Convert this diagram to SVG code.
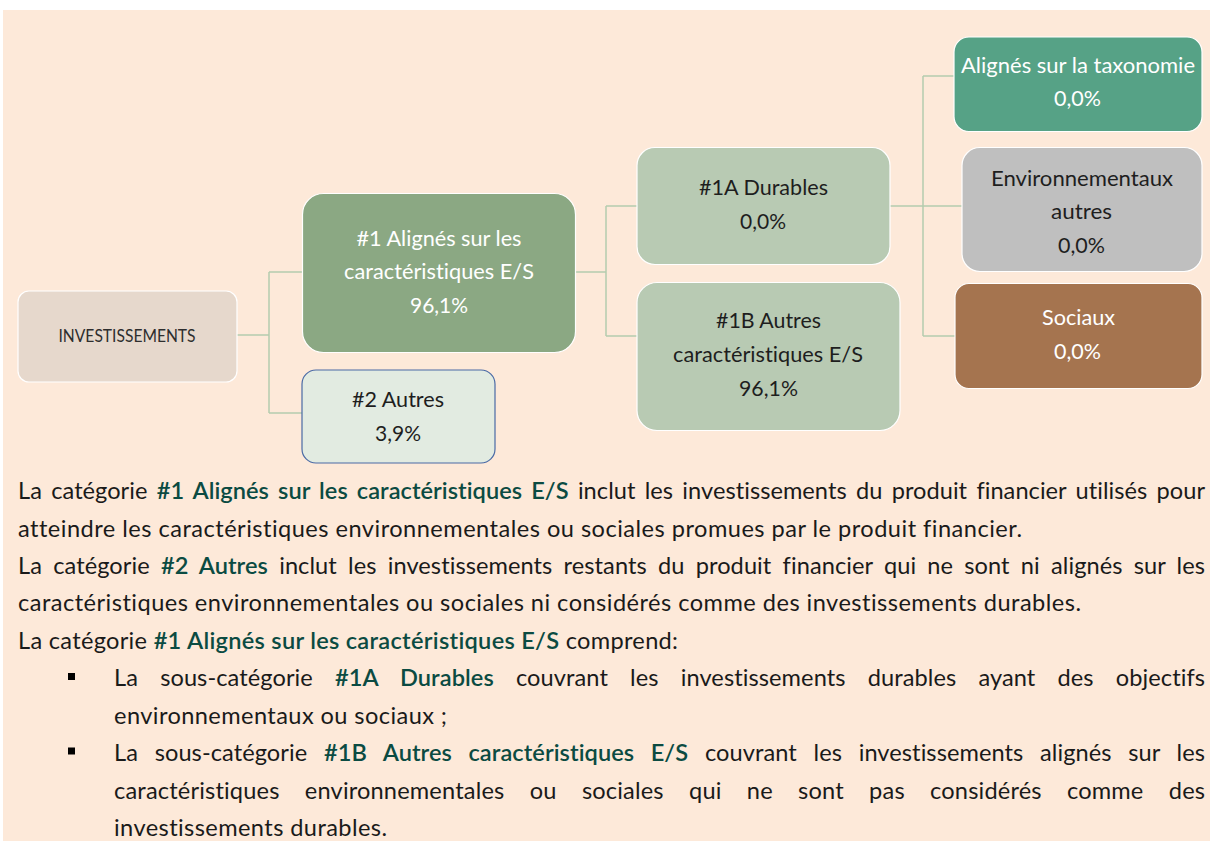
<svg xmlns="http://www.w3.org/2000/svg" width="1210" height="841" viewBox="0 0 1210 841">
<style>
text{font-variant-ligatures:none;font-feature-settings:"liga" 0,"clig" 0}
.lbl{font-family:Lato,"Open Sans",sans-serif;font-size:21.5px;text-anchor:middle}
.w{fill:#FFFFFF}
.d{fill:#1E1E1E}
.body{font-family:Lato,"Open Sans",sans-serif;font-size:23.6px;fill:#1A1A1A}
.bd{font-weight:600;fill:#0B4B42}
.box{stroke:#FFFFFF;stroke-width:1.2}
.conn{fill:none;stroke:#B4CCAE;stroke-width:1.5}
</style>
<rect x="3" y="10" width="1207" height="831" fill="#FDE9D9"/>
<g id="connectors" class="conn">
<path d="M237,335 H269 M269,272 V413 M269,272 H302 M269,413 H302"/>
<path d="M575,272 H606 M606,206 V336 M606,206 H637 M606,336 H637"/>
<path d="M890,206 H962 M923,76 V336 M923,76 H954 M923,336 H955"/>
</g>
<g id="node-investissements">
<rect class="box" x="18" y="291" width="219" height="91" rx="11" fill="#E6D8CC"/>
<text x="127" y="342" font-family="Lato,'Open Sans',sans-serif" font-size="16.5" text-anchor="middle" fill="#2E2E2E" textLength="137" lengthAdjust="spacingAndGlyphs">INVESTISSEMENTS</text>
</g>
<g id="node-1">
<rect class="box" x="302.5" y="193.5" width="273" height="159" rx="21" fill="#8BA883"/>
<text class="lbl w" x="439" y="245.5" textLength="165" lengthAdjust="spacingAndGlyphs">#1 Alignés sur les</text>
<text class="lbl w" x="439" y="279" textLength="190" lengthAdjust="spacingAndGlyphs">caractéristiques E/S</text>
<text class="lbl w" x="439" y="312.5" textLength="58" lengthAdjust="spacingAndGlyphs">96,1%</text>
</g>
<g id="node-2">
<rect x="302" y="370" width="193" height="93" rx="14" fill="#E2EBE1" stroke="#4A6AA5" stroke-width="1.2"/>
<text class="lbl d" x="398" y="406.5" textLength="92" lengthAdjust="spacingAndGlyphs">#2 Autres</text>
<text class="lbl d" x="398" y="440.5" textLength="46" lengthAdjust="spacingAndGlyphs">3,9%</text>
</g>
<g id="node-1a">
<rect class="box" x="637" y="147.5" width="253" height="117" rx="18" fill="#B8CAB3"/>
<text class="lbl d" x="763.5" y="195" textLength="129" lengthAdjust="spacingAndGlyphs">#1A Durables</text>
<text class="lbl d" x="763" y="229" textLength="46" lengthAdjust="spacingAndGlyphs">0,0%</text>
</g>
<g id="node-1b">
<rect class="box" x="637" y="282.5" width="263" height="148" rx="20" fill="#B8CAB3"/>
<text class="lbl d" x="768.5" y="328" textLength="105" lengthAdjust="spacingAndGlyphs">#1B Autres</text>
<text class="lbl d" x="768" y="362" textLength="190" lengthAdjust="spacingAndGlyphs">caractéristiques E/S</text>
<text class="lbl d" x="768.5" y="396" textLength="59" lengthAdjust="spacingAndGlyphs">96,1%</text>
</g>
<g id="node-taxonomie">
<rect class="box" x="954" y="37" width="248" height="94.5" rx="15" fill="#56A286"/>
<text class="lbl w" x="1078" y="72.5" textLength="234" lengthAdjust="spacingAndGlyphs">Alignés sur la taxonomie</text>
<text class="lbl w" x="1077.5" y="106" textLength="47" lengthAdjust="spacingAndGlyphs">0,0%</text>
</g>
<g id="node-environnementaux">
<rect class="box" x="962" y="147.5" width="240" height="124" rx="18" fill="#BFBFBF"/>
<text class="lbl d" x="1082" y="185.5" textLength="182" lengthAdjust="spacingAndGlyphs">Environnementaux</text>
<text class="lbl d" x="1081.5" y="219" textLength="61" lengthAdjust="spacingAndGlyphs">autres</text>
<text class="lbl d" x="1081.5" y="252.5" textLength="47" lengthAdjust="spacingAndGlyphs">0,0%</text>
</g>
<g id="node-sociaux">
<rect class="box" x="955" y="283.5" width="247" height="105" rx="14" fill="#A5744F"/>
<text class="lbl w" x="1078.5" y="324.5" textLength="73" lengthAdjust="spacingAndGlyphs">Sociaux</text>
<text class="lbl w" x="1077.5" y="358.5" textLength="47" lengthAdjust="spacingAndGlyphs">0,0%</text>
</g>
<g id="description">
<text class="body" x="18" y="499" textLength="1187" lengthAdjust="spacing" word-spacing="3.2">La catégorie <tspan class="bd">#1 Alignés sur les caractéristiques E/S</tspan> inclut les investissements du produit financier utilisés pour</text>
<text class="body" x="18" y="536.5" textLength="1004" lengthAdjust="spacing">atteindre les caractéristiques environnementales ou sociales promues par le produit financier.</text>
<text class="body" x="18" y="574" textLength="1187" lengthAdjust="spacing" word-spacing="5.1">La catégorie <tspan class="bd">#2 Autres</tspan> inclut les investissements restants du produit financier qui ne sont ni alignés sur les</text>
<text class="body" x="18" y="611" textLength="1063" lengthAdjust="spacing">caractéristiques environnementales ou sociales ni considérés comme des investissements durables.</text>
<text class="body" x="18" y="648.5" textLength="660" lengthAdjust="spacing">La catégorie <tspan class="bd">#1 Alignés sur les caractéristiques E/S</tspan> comprend:</text>
<rect x="68" y="673" width="7" height="7" fill="#000000"/>
<text class="body" x="114" y="686" textLength="1091" lengthAdjust="spacing" word-spacing="16">La sous-catégorie <tspan class="bd">#1A Durables</tspan> couvrant les investissements durables ayant des objectifs</text>
<text class="body" x="114" y="723.5" textLength="333" lengthAdjust="spacing">environnementaux ou sociaux ;</text>
<rect x="68" y="747.5" width="7" height="7" fill="#000000"/>
<text class="body" x="114" y="761" textLength="1091" lengthAdjust="spacing" word-spacing="10.6">La sous-catégorie <tspan class="bd">#1B Autres caractéristiques E/S</tspan> couvrant les investissements alignés sur les</text>
<text class="body" x="114" y="798.5" textLength="1091" lengthAdjust="spacing" word-spacing="19.1">caractéristiques environnementales ou sociales qui ne sont pas considérés comme des</text>
<text class="body" x="114" y="836" textLength="273" lengthAdjust="spacing">investissements durables.</text>
</g>
</svg>
